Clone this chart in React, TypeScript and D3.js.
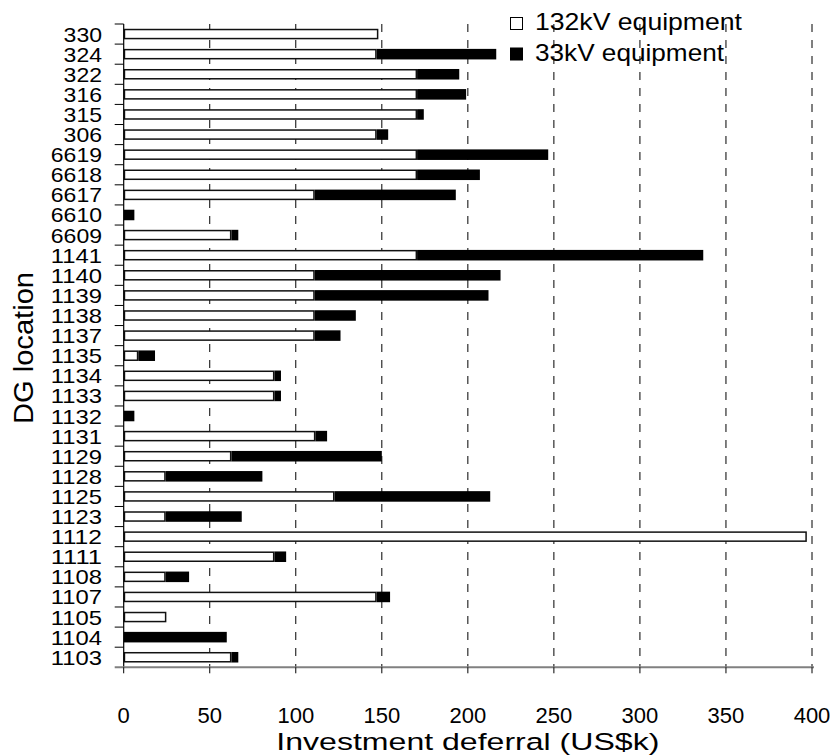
import React from "react";
import * as d3 from "d3";

// DG locations, top to bottom
const locations = [
  "330", "324", "322", "316", "315", "306", "6619", "6618", "6617", "6610",
  "6609", "1141", "1140", "1139", "1138", "1137", "1135", "1134", "1133", "1132",
  "1131", "1129", "1128", "1125", "1123", "1112", "1111", "1108", "1107", "1105",
  "1104", "1103",
];

// Investment deferral from 132kV equipment (US$k)
const kv132 = [
  148, 147, 170.5, 170.5, 170.5, 147, 170.5, 170.5, 111, 0,
  62.6, 170.5, 111, 111, 111, 111, 8.5, 87.6, 87.6, 0,
  111.4, 62.6, 24.4, 122.5, 24.4, 397, 87.6, 24.4, 147, 24.8,
  0, 62.6,
];

// Investment deferral from 33kV equipment (US$k)
const kv33 = [
  0, 69.5, 24.5, 28.5, 3.9, 6.7, 76.2, 36.5, 82, 6.2,
  4, 166.3, 108, 101, 23.9, 15, 9.7, 3.8, 3.8, 6.2,
  6.8, 87.4, 56.2, 90.5, 44.2, 0, 6.8, 13.6, 7.8, 0,
  59.9, 4,
];

const xTicks = [0, 50, 100, 150, 200, 250, 300, 350, 400];
const seriesNames = ["132kV equipment", "33kV equipment"];

const W = 838;
const H = 755;
const left = 123.7;
const right = 812;
const top = 24;
const bottom = 667.3;
const FONT = "'Liberation Sans', Arial, sans-serif";

export default function App() {
  const x = d3.scaleLinear().domain([0, 400]).range([left, right]);
  const y = d3
    .scaleBand<string>()
    .domain(locations)
    .range([top, bottom])
    .paddingInner(0.55)
    .paddingOuter(0.275);
  const yb = d3.scaleBand<string>().domain(locations).range([top, bottom]);

  const rows = locations.map((loc, i) => ({ loc, a: kv132[i], b: kv33[i] }));
  const layers = d3.stack<any>().keys(["a", "b"])(rows);

  return (
    <svg
      width={W}
      height={H}
      style={{ position: "absolute", left: 0, top: 0, background: "#fff" }}
      fontFamily={FONT}
    >
      {/* dashed vertical gridlines */}
      {xTicks
        .filter((t) => t > 0)
        .map((t) => (
          <line
            key={"g" + t}
            x1={x(t)}
            x2={x(t)}
            y1={top}
            y2={bottom}
            stroke="#000"
            strokeWidth={1}
            strokeDasharray="8,8"
          />
        ))}

      {/* stacked bars: open 132kV, solid 33kV */}
      {layers.map((layer, li) => (
        <g key={"l" + li}>
          {layer.map((d, i) => {
            const w = x(d[1]) - x(d[0]);
            if (w <= 0) return null;
            const yy = y(locations[i])!;
            return li === 0 ? (
              <rect
                key={i}
                x={x(d[0]) + 0.75}
                y={yy}
                width={Math.max(0, w - 1.5)}
                height={y.bandwidth()}
                fill="#fff"
                stroke="#111"
                strokeWidth={1.5}
              />
            ) : (
              <rect
                key={i}
                x={x(d[0])}
                y={yy - 0.75}
                width={w}
                height={y.bandwidth() + 1.5}
                fill="#000"
              />
            );
          })}
        </g>
      ))}

      {/* y axis */}
      <line x1={left} x2={left} y1={top} y2={bottom} stroke="#000" strokeWidth={1.2} />
      {locations.map((loc) => (
        <line
          key={"yt" + loc}
          x1={left - 9}
          x2={left}
          y1={yb(loc)!}
          y2={yb(loc)!}
          stroke="#000"
          strokeWidth={1}
        />
      ))}
      {locations.map((loc) => (
        <text
          key={"yl" + loc}
          x={102}
          y={yb(loc)! + yb.bandwidth() / 2 + 7.5}
          textAnchor="end"
          fontSize={21}
          textLength={loc.length * 12.8}
          lengthAdjust="spacingAndGlyphs"
          fill="#000"
        >
          {loc}
        </text>
      ))}

      {/* x axis */}
      <line x1={left - 9} x2={right + 2} y1={bottom} y2={bottom} stroke="#808080" strokeWidth={2} />
      {xTicks.map((t) => (
        <line key={"xt" + t} x1={x(t)} x2={x(t)} y1={bottom} y2={bottom + 6} stroke="#000" strokeWidth={1} />
      ))}
      {xTicks.map((t) => (
        <text key={"xl" + t} x={x(t)} y={723} textAnchor="middle" fontSize={22} fill="#000">
          {t}
        </text>
      ))}

      {/* axis titles */}
      <text
        x={(left + right) / 2}
        y={750}
        textAnchor="middle"
        fontSize={24.5}
        textLength={383}
        lengthAdjust="spacingAndGlyphs"
        fill="#000"
      >
        Investment deferral (US$k)
      </text>
      <text
        transform="translate(33, 348) rotate(-90)"
        textAnchor="middle"
        fontSize={27}
        textLength={152}
        lengthAdjust="spacingAndGlyphs"
        fill="#000"
      >
        DG location
      </text>

      {/* legend */}
      <g>
        <rect x={510.5} y={17.5} width={12} height={12} fill="#fff" stroke="#000" strokeWidth={1} />
        <text x={535} y={29.5} fontSize={24} textLength={207} lengthAdjust="spacingAndGlyphs" fill="#000">
          {seriesNames[0]}
        </text>
        <rect x={510} y={47.5} width={13} height={13} fill="#000" />
        <text x={535} y={60.5} fontSize={24} textLength={189} lengthAdjust="spacingAndGlyphs" fill="#000">
          {seriesNames[1]}
        </text>
      </g>
    </svg>
  );
}
